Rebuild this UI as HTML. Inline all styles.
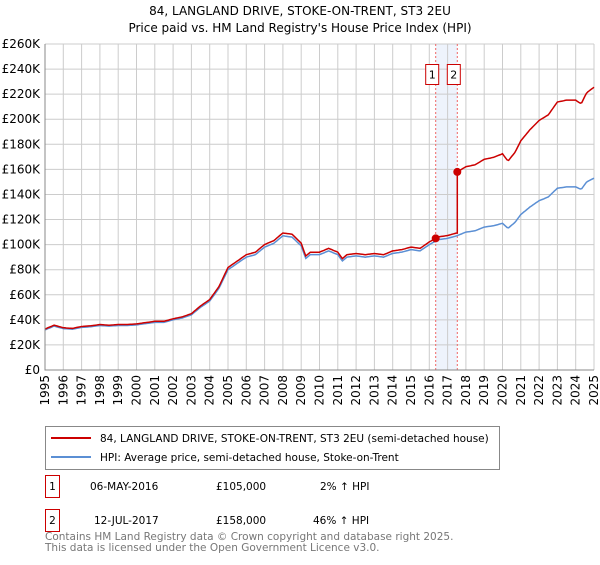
<!DOCTYPE html>
<html><head><meta charset="utf-8"><style>
body{margin:0;background:#fff;font-family:"Liberation Sans","DejaVu Sans",sans-serif;}
svg text{font-family:"DejaVu Sans","Liberation Sans",sans-serif;}
</style></head><body>
<svg id="chart" width="600" height="560" viewBox="0 0 600 560" xmlns="http://www.w3.org/2000/svg">
<text x="300" y="15" text-anchor="middle" font-size="12">84, LANGLAND DRIVE, STOKE-ON-TRENT, ST3 2EU</text>
<text x="300" y="32" text-anchor="middle" font-size="12">Price paid vs. HM Land Registry's House Price Index (HPI)</text>
<g id="grid"></g><g id="series"></g><g id="axes"></g>
<rect x="45.5" y="426.5" width="454" height="43" fill="#fff" stroke="#888"/>
<line x1="51" y1="438" x2="91" y2="438" stroke="#cc0000" stroke-width="2"/>
<text x="100" y="442" font-size="10.5">84, LANGLAND DRIVE, STOKE-ON-TRENT, ST3 2EU (semi-detached house)</text>
<line x1="51" y1="457" x2="91" y2="457" stroke="#5b8fd4" stroke-width="2"/>
<text x="100" y="461" font-size="10.5">HPI: Average price, semi-detached house, Stoke-on-Trent</text>
<g font-size="10.5">
<rect x="45.5" y="475.5" width="14" height="22" fill="#fff" stroke="#cc0000"/><text x="52.5" y="490" text-anchor="middle">1</text>
<text x="90" y="490">06-MAY-2016</text><text x="216" y="490">£105,000</text><text x="320" y="490">2% ↑ HPI</text></g>
<g font-size="10.5">
<rect x="45.5" y="509.5" width="14" height="22" fill="#fff" stroke="#cc0000"/><text x="52.5" y="524" text-anchor="middle">2</text>
<text x="94" y="524">12-JUL-2017</text><text x="216" y="524">£158,000</text><text x="313" y="524">46% ↑ HPI</text></g>
<text x="45" y="540" font-size="10.5" fill="#777">Contains HM Land Registry data © Crown copyright and database right 2025.</text>
<text x="45" y="551" font-size="10.5" fill="#777">This data is licensed under the Open Government Licence v3.0.</text>
</svg>
<script>
const hpiYears=[1995,1995.5,1996,1996.5,1997,1997.5,1998,1998.5,1999,1999.5,2000,2000.5,2001,2001.5,2002,2002.5,2003,2003.5,2004,2004.5,2005,2005.5,2006,2006.5,2007,2007.5,2008,2008.5,2009,2009.25,2009.5,2010,2010.5,2011,2011.25,2011.5,2012,2012.5,2013,2013.5,2014,2014.5,2015,2015.5,2016,2016.5,2017,2017.5,2018,2018.5,2019,2019.5,2020,2020.3,2020.7,2021,2021.5,2022,2022.5,2023,2023.5,2024,2024.3,2024.6,2025];
const hpiValues=[32,35,33,32.5,34,34.5,35.5,35,35.5,35.5,36,37,38,38,40,41.5,44,50,55,65,80,85,90,92,98,101,107,106,99,89,92,92,95,92,87,90,91,90,91,90,93,94,96,95,100,104,105,107,110,111,114,115,117,113,118,124,130,135,138,145,146,146,144,150,153];
const saleYears=[2016.35,2017.53];
const salePrices=[105,158];
const saleLabels=["1","2"];
const yTicks=[0,20,40,60,80,100,120,140,160,180,200,220,240,260];
const xTicks=[1995,1996,1997,1998,1999,2000,2001,2002,2003,2004,2005,2006,2007,2008,2009,2010,2011,2012,2013,2014,2015,2016,2017,2018,2019,2020,2021,2022,2023,2024,2025];
const X0=45,X1=594,Y0=370,Y1=44;
const xs=v=>X0+(v-1995)/30*(X1-X0);
const ys=v=>Y0-v/260*(Y0-Y1);
const NS="http://www.w3.org/2000/svg";
function mk(parent,tag,attrs){const e=document.createElementNS(NS,tag);for(const k in attrs)e.setAttribute(k,attrs[k]);document.getElementById(parent).appendChild(e);return e;}
function hpiAt(t){for(let i=1;i<hpiYears.length;i++){if(t<=hpiYears[i]){const a=hpiYears[i-1],b=hpiYears[i];return hpiValues[i-1]+(hpiValues[i]-hpiValues[i-1])*(t-a)/(b-a);}}return hpiValues[hpiValues.length-1];}
let band=mk('grid','rect',{x:xs(saleYears[0]),y:Y1,width:xs(saleYears[1])-xs(saleYears[0]),height:Y0-Y1,fill:'#eef3fc'});


yTicks.forEach(v=>{
 let l=mk('grid','line',{x1:X0,x2:X1,y1:ys(v),y2:ys(v),stroke:'#ccc'});
 
 
 let t=mk('axes','text',{x:40,y:ys(v)+4,'text-anchor':'end','font-size':'12'});
 
 
 t.textContent=v===0?'£0':'£'+v+'K';
});
xTicks.forEach(v=>{
 let l=mk('grid','line',{x1:xs(v),x2:xs(v),y1:Y1,y2:Y0,stroke:'#ccc'});
 
 
 let t=mk('axes','text',{x:0,y:0,'text-anchor':'end','font-size':'12',transform:`translate(${xs(v)+4},${Y0+5}) rotate(-90)`});
 
 
 t.textContent=v;
});
let ax=mk('axes','path',{d:`M${X0},${Y1}V${Y0}H${X1}`,fill:'none',stroke:'#888'});


saleYears.forEach((s,i)=>{
 let l=mk('grid','line',{x1:xs(s),x2:xs(s),y1:Y1,y2:Y0,stroke:'#e66','stroke-dasharray':'2,2'});
 
 
});
const pts=[],ptsR=[];
const r0=salePrices[0]/hpiAt(saleYears[0]),r1=salePrices[1]/hpiAt(saleYears[1]);
for(let t=1995;t<=2025.001;t+=1/12){
 const h=hpiAt(t);pts.push(xs(t).toFixed(1)+','+ys(h).toFixed(1));
 const r=t<saleYears[1]?r0:r1;ptsR.push(xs(t).toFixed(1)+','+ys(h*r).toFixed(1));
 if(t<saleYears[1]&&t+1/12>=saleYears[1]){ptsR.push(xs(saleYears[1]).toFixed(1)+','+ys(h*r0).toFixed(1));ptsR.push(xs(saleYears[1]).toFixed(1)+','+ys(salePrices[1]).toFixed(1));}
}
let hl=mk('series','polyline',{points:pts.join(' '),fill:'none',stroke:'#5b8fd4','stroke-width':1.5});


let pl=mk('series','polyline',{points:ptsR.join(' '),fill:'none',stroke:'#cc0000','stroke-width':1.5});


saleYears.forEach((s,i)=>{
 let c=mk('series','circle',{cx:xs(s),cy:ys(salePrices[i]),r:4,fill:'#cc0000'});
 
 
 let b=mk('series','rect',{x:xs(s)-10,y:64.5,width:13,height:20,fill:'#fff',stroke:'#cc0000'});
 
 
 let t=mk('series','text',{x:xs(s)-3.5,y:78.5,'text-anchor':'middle','font-size':'11'});
 
 
 t.textContent=saleLabels[i];
});
</script>
</body></html>
